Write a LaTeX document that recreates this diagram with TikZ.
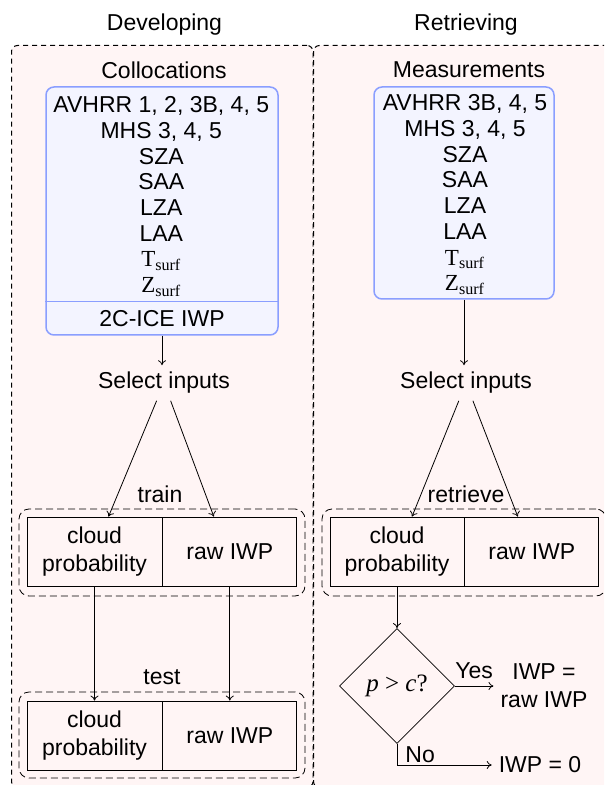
\documentclass[tikz,border=0pt]{standalone}
\usepackage{fontspec}
\setmainfont{Liberation Serif}
\setsansfont{Liberation Sans}
\usetikzlibrary{arrows.meta, positioning, shapes.geometric}

\definecolor{panelpink}{RGB}{255,245,245}
\definecolor{boxblue}{RGB}{138,158,255}
\definecolor{boxfill}{RGB}{243,244,255}

\newcommand{\Tsurf}{{\rmfamily T\textsubscript{surf}}}
\newcommand{\Zsurf}{{\rmfamily Z\textsubscript{surf}}}

\tikzset{
    panel/.style={
        draw=black,
        line width=0.5pt,
        dash pattern=on 2.5pt off 2pt,
        rounded corners=3pt,
        fill=panelpink,
        inner sep=0pt,
        anchor=north west},
    grpbox/.style={
        draw=black,
        dash pattern=on 3.5pt off 2pt,
        rounded corners=5pt,
        inner sep=0pt},
    inbox/.style={
        draw=boxblue,
        fill=boxfill,
        line width=0.75pt,
        rounded corners=4pt,
        inner sep=0pt},
    rowtext/.style={
        align=center,
        font=\sffamily\fontsize{11.5}{12.86}\selectfont},
    cellbox/.style={
        draw=black,
        minimum width=67pt,
        minimum height=34.5pt,
        inner sep=0pt,
        align=center},
    >={To[length=2.5pt,width=4pt]}
}

\begin{document}
\begin{tikzpicture}[x=0.5pt, y=-0.5pt, font=\sffamily\fontsize{11.5}{14}\selectfont]
    \useasboundingbox (0,0) rectangle (604,785);
    \clip (0,0) rectangle (604,785);

    % the two panels
    \node[panel, minimum width=150.75pt, minimum height=371pt] (devPanel) at (11,45) {};
    \node[panel, minimum width=150pt, minimum height=371pt] (retPanel) at (313,45) {};
    \node (devTitle) at (164.5,25) {Developing};
    \node (retTitle) at (466,25) {Retrieving};

    % developing
    \node (colTitle) at (164,70) {Collocations};
    \node[
        inbox,
        minimum width=116pt,
        minimum height=124pt]
        (colBox) at (162,211) {};
    \node[rowtext] (colRows) at (161.3,196.5)
        {AVHRR 1, 2, 3B, 4, 5\\MHS 3, 4, 5\\SZA\\SAA\\LZA\\LAA\\\Tsurf\\\Zsurf};
    \node[
        minimum height=16.5pt,
        inner sep=0pt]
        (colIce) at (162,318.5) {2C-ICE IWP};
    \draw[boxblue, line width=0.75pt] (colBox.west |- colIce.north) -- (colBox.east |- colIce.north);

    \node (selDev) at (164,383) {Select inputs};
    \draw[->] (colBox.south) -- (colBox.south |- selDev.north);

    \node[
        grpbox,
        minimum width=143pt,
        minimum height=43.5pt]
        (trainGrp) at (162,552.5) {};
    \node (trainLbl) at (160,494) {train};
    \node[cellbox, minimum width=67.5pt] (cloudTrain) at (94.5,551.5) {cloud\\probability};
    \node[cellbox, right=0pt of cloudTrain] (rawTrain) {raw IWP};
    \draw[->] (selDev) -- ([xshift=7pt]cloudTrain.north);
    \draw[->] (selDev) -- ([xshift=-8pt]rawTrain.north);

    \node[
        grpbox,
        minimum width=143pt,
        minimum height=43pt]
        (testGrp) at (162,735) {};
    \node (testLbl) at (162,677) {test};
    \node[cellbox, minimum width=67.5pt] (cloudTest) at (94.5,735.5) {cloud\\probability};
    \node[cellbox, right=0pt of cloudTest] (rawTest) {raw IWP};
    \draw[->] (cloudTrain) -- (cloudTest);
    \draw[->] (rawTrain) -- (rawTest);

    % retrieving
    \node (meaTitle) at (469,70) {Measurements};
    \node[
        inbox,
        minimum width=90pt,
        minimum height=106pt]
        (meaBox) at (464,193) {};
    \node[rowtext] (meaRows) at (465,194.7)
        {AVHRR 3B, 4, 5\\MHS 3, 4, 5\\SZA\\SAA\\LZA\\LAA\\\Tsurf\\\Zsurf};

    \node (selRet) at (466,383) {Select inputs};
    \draw[->] (meaBox.south) -- (meaBox.south |- selRet.north);

    \node[
        grpbox,
        minimum width=142pt,
        minimum height=43.5pt]
        (retGrp) at (464,552.5) {};
    \node (retLbl) at (466,494) {retrieve};
    \node[cellbox] (cloudRet) at (397,551.5) {cloud\\probability};
    \node[cellbox, right=0pt of cloudRet] (rawRet) {raw IWP};
    \draw[->] (selRet) -- ([xshift=7.5pt]cloudRet.north);
    \draw[->] (selRet) -- ([xshift=-7pt]rawRet.north);

    \node[
        diamond,
        draw=black,
        minimum width=57.5pt,
        minimum height=57.5pt,
        inner sep=0pt]
        (decRet) at (397,686) {\rmfamily\fontsize{12.5}{14}\selectfont\textit{p} > \textit{c}?};
    \draw[->] (cloudRet) -- (decRet);

    \node[align=center] (iwpRaw) at (544,686) {IWP =\\raw IWP};
    \node (iwpZero) at (540,765) {IWP = 0};
    \draw[->] (decRet) -- node[above] (yesLbl) {Yes} (iwpRaw);
    \draw[->] (decRet.south) |- node[
        pos=0.5,
        anchor=south west,
        inner xsep=4pt,
        inner ysep=1pt]
        (noLbl) {No} (iwpZero);
\end{tikzpicture}
\end{document}
